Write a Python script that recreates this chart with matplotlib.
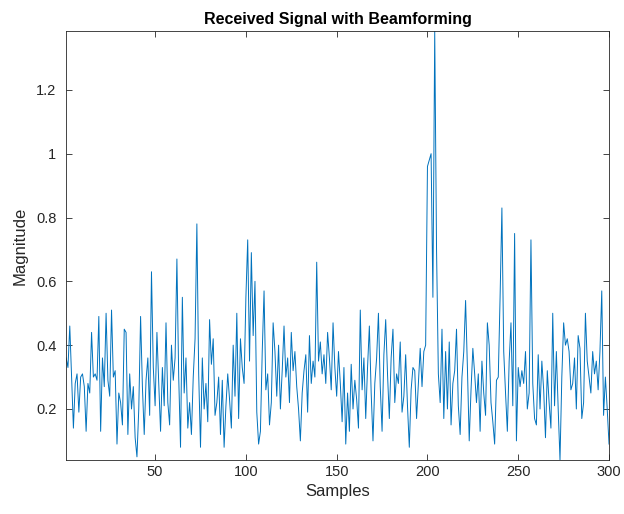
import numpy as np
import matplotlib
matplotlib.use("Agg")
import matplotlib.pyplot as plt
from matplotlib.ticker import FormatStrFormatter

plt.rcParams['font.family'] = ['Liberation Sans', 'DejaVu Sans']

# magnitude, samples 1..300
magnitude = [
    0.36, 0.33, 0.46, 0.30, 0.14, 0.28, 0.31, 0.19, 0.30, 0.31,
    0.27, 0.13, 0.28, 0.25, 0.44, 0.30, 0.31, 0.29, 0.49, 0.13,
    0.36, 0.27, 0.50, 0.29, 0.24, 0.51, 0.30, 0.32, 0.09, 0.25,
    0.22, 0.15, 0.45, 0.44, 0.12, 0.31, 0.20, 0.27, 0.11, 0.05,
    0.20, 0.49, 0.27, 0.12, 0.29, 0.36, 0.18, 0.63, 0.33, 0.21,
    0.44, 0.28, 0.13, 0.33, 0.21, 0.47, 0.22, 0.15, 0.40, 0.29,
    0.36, 0.67, 0.30, 0.08, 0.55, 0.25, 0.36, 0.14, 0.22, 0.12,
    0.30, 0.42, 0.78, 0.31, 0.08, 0.36, 0.20, 0.28, 0.16, 0.48,
    0.34, 0.42, 0.18, 0.22, 0.30, 0.12, 0.29, 0.08, 0.21, 0.31,
    0.23, 0.14, 0.40, 0.24, 0.50, 0.17, 0.42, 0.33, 0.28, 0.55,
    0.73, 0.35, 0.69, 0.43, 0.60, 0.19, 0.09, 0.13, 0.38, 0.57,
    0.26, 0.31, 0.15, 0.22, 0.47, 0.38, 0.24, 0.40, 0.20, 0.32,
    0.46, 0.30, 0.36, 0.22, 0.44, 0.32, 0.38, 0.27, 0.20, 0.10,
    0.25, 0.32, 0.37, 0.19, 0.43, 0.28, 0.35, 0.30, 0.66, 0.35,
    0.41, 0.31, 0.37, 0.28, 0.44, 0.36, 0.26, 0.47, 0.33, 0.24,
    0.38, 0.28, 0.16, 0.33, 0.09, 0.25, 0.13, 0.34, 0.20, 0.29,
    0.23, 0.14, 0.51, 0.26, 0.36, 0.17, 0.33, 0.46, 0.25, 0.10,
    0.28, 0.36, 0.50, 0.27, 0.13, 0.37, 0.48, 0.31, 0.17, 0.36,
    0.45, 0.22, 0.31, 0.28, 0.41, 0.19, 0.24, 0.37, 0.21, 0.08,
    0.26, 0.33, 0.32, 0.17, 0.28, 0.39, 0.27, 0.38, 0.40, 0.96,
    0.98, 1.00, 0.55, 1.385, 0.70, 0.31, 0.22, 0.45, 0.17, 0.38,
    0.20, 0.41, 0.15, 0.28, 0.32, 0.45, 0.21, 0.12, 0.30, 0.38,
    0.54, 0.33, 0.10, 0.26, 0.39, 0.31, 0.22, 0.31, 0.13, 0.35,
    0.25, 0.18, 0.47, 0.40, 0.22, 0.16, 0.09, 0.29, 0.30, 0.55,
    0.83, 0.38, 0.25, 0.13, 0.35, 0.47, 0.21, 0.75, 0.10, 0.33,
    0.27, 0.32, 0.28, 0.38, 0.20, 0.25, 0.73, 0.28, 0.17, 0.15,
    0.37, 0.20, 0.35, 0.26, 0.11, 0.32, 0.22, 0.14, 0.50, 0.21,
    0.38, 0.20, 0.04, 0.30, 0.47, 0.40, 0.42, 0.38, 0.26, 0.28,
    0.36, 0.20, 0.43, 0.39, 0.17, 0.22, 0.50, 0.35, 0.30, 0.25,
    0.38, 0.31, 0.35, 0.26, 0.38, 0.57, 0.18, 0.30, 0.20, 0.09,
]
samples = np.arange(1, len(magnitude) + 1)

x_ticks = [50, 100, 150, 200, 250, 300]
y_ticks = [0.2, 0.4, 0.6, 0.8, 1.0, 1.2]

axcol = '#262626'

fig = plt.figure(figsize=(6.24, 5.14), dpi=100)
ax = fig.add_axes([0.106, 0.105, 0.870, 0.835])
ax.plot(samples, magnitude, color='#0072BD', linewidth=0.7)

ax.set_xlim(1, 300)
ax.set_ylim(min(magnitude), max(magnitude))
ax.set_xticks(x_ticks)
ax.set_yticks(y_ticks)
ax.yaxis.set_major_formatter(FormatStrFormatter('%g'))
ax.tick_params(direction='in', length=4, width=0.6, colors=axcol,
               labelsize=10.5, top=True, right=True)
ax.tick_params(axis='y', pad=7)
for s in ax.spines.values():
    s.set_color(axcol)
    s.set_linewidth(0.6)

ax.set_title('Received Signal with Beamforming', fontsize=11.5,
             fontweight='bold', color='black', pad=5)
ax.set_xlabel('Samples', fontsize=12, color=axcol)
ax.set_ylabel('Magnitude', fontsize=12, color=axcol, labelpad=6)

fig.savefig('out.png', dpi=100)
